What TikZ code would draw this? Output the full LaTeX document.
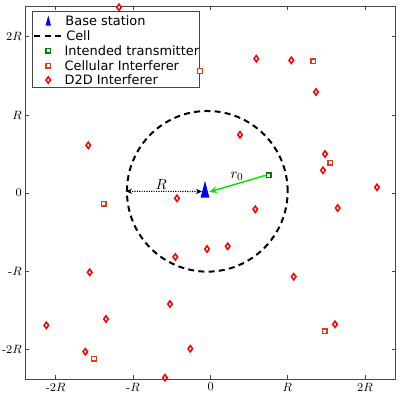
\documentclass[tikz,border=0pt]{standalone}
\usepackage{fontspec}
\newfontfamily\legfont{DejaVu Sans}
\usetikzlibrary{shapes.geometric,arrows.meta,calc}
\definecolor{cellorange}{RGB}{222,62,22}
\definecolor{txgreen}{RGB}{0,128,0}
\definecolor{arrgreen}{RGB}{10,225,10}
\definecolor{framegray}{RGB}{70,70,70}
\tikzset{
  d2d/.style={diamond, draw=red, fill=white, line width=1.15pt, inner sep=0pt, minimum width=3.9pt, minimum height=5.2pt},
  cellint/.style={rectangle, draw=cellorange, fill=white, line width=1.05pt, inner sep=0pt, minimum size=3.4pt},
  txsq/.style={rectangle, draw=txgreen, fill=white, line width=1.05pt, inner sep=0pt, minimum size=3.4pt},
  celldash/.style={draw=black, line width=1.5pt, dash pattern=on 4.5pt off 3.2pt},
  ticklab/.style={font=\fontsize{9}{10}\selectfont, inner sep=0pt},
  leglab/.style={font=\legfont\fontsize{9.7}{11}\selectfont, anchor=west, inner sep=0pt},
  tick/.style={draw=framegray, line width=0.5pt}
}
\begin{document}
\begin{tikzpicture}[x=0.75pt,y=-0.75pt]
\useasboundingbox (0,0) rectangle (403,397);
% frame
\draw[framegray, line width=0.6pt] (25,6) rectangle (395.7,379.3);
% ticks
\foreach \xx in {55.7,133,210.7,287.3,365}{
  \draw[tick] (\xx,379.3) -- ++(0,-4);
  \draw[tick] (\xx,6) -- ++(0,4);
}
\foreach \yy in {36.7,115,193,271,349.3}{
  \draw[tick] (25,\yy) -- ++(4,0);
  \draw[tick] (395.7,\yy) -- ++(-4,0);
}
% tick labels
\node[ticklab] (xl1) at (55.7,387) {-2$R$};
\node[ticklab] (xl2) at (133,387) {-$R$};
\node[ticklab] (xl3) at (210.7,387) {$0$};
\node[ticklab] (xl4) at (287.3,387) {$R$};
\node[ticklab] (xl5) at (365,387) {2$R$};
\node[ticklab, anchor=east] (yl1) at (22,36.7) {2$R$};
\node[ticklab, anchor=east] (yl2) at (22,115) {$R$};
\node[ticklab, anchor=east] (yl3) at (22,193) {$0$};
\node[ticklab, anchor=east] (yl4) at (22,271) {-$R$};
\node[ticklab, anchor=east] (yl5) at (22,349.3) {-2$R$};
% legend box (drawn first; markers lie on top of it)
\node[draw=framegray, fill=white, line width=0.7pt, minimum width=125pt, minimum height=57pt, inner sep=0pt, anchor=north west] (legend) at (32.3,11.3) {};
\fill[blue] (45.6,25.5) -- (51,25.5) -- (48.3,15.5) -- cycle;
\node[leglab] (lt1) at (65.2,20.7) {Base station};
\coordinate (lc1) at (34,35.7);
\coordinate (lc2) at (64,35.7);
\draw[black, line width=1.5pt, dash pattern=on 4.5pt off 3.5pt] (lc1) -- (lc2);
\node[leglab] (lt2) at (66,35.7) {Cell};
\node[txsq] (ltx) at (48.3,50.7) {};
\node[leglab] (lt3) at (64.3,50.7) {Intended transmitter};
\node[cellint] (lci) at (48.3,65.7) {};
\node[leglab] (lt4) at (64.3,65.7) {Cellular Interferer};
\node[d2d] (ld) at (48.3,80) {};
\node[leglab] (lt5) at (64.3,80) {D2D Interferer};
% cell
\coordinate (bs) at (205,191.5);
\node[circle, celldash, minimum size=120.5pt, inner sep=0pt] (cell) at (207.3,191.3) {};
% interferers
\node[d2d] (d1) at (119,7.3) {};
\node[d2d] (d2) at (256.3,58.7) {};
\node[d2d] (d3) at (291.3,60.3) {};
\node[d2d] (d4) at (316,92) {};
\node[d2d] (d5) at (240,134.7) {};
\node[d2d] (d6) at (88.3,145.3) {};
\node[d2d] (d7) at (325,154) {};
\node[d2d] (d8) at (323,170.3) {};
\node[d2d] (d9) at (377,187.3) {};
\node[d2d] (d10) at (177,198.3) {};
\node[d2d] (d11) at (255.3,209.3) {};
\node[d2d] (d12) at (337.7,208) {};
\node[d2d] (d13) at (207,249) {};
\node[d2d] (d14) at (227.7,246.3) {};
\node[d2d] (d15) at (175.3,257) {};
\node[d2d] (d16) at (89.7,272.3) {};
\node[d2d] (d17) at (293.7,276.7) {};
\node[d2d] (d18) at (170,304) {};
\node[d2d] (d19) at (106,319) {};
\node[d2d] (d20) at (46.3,325.3) {};
\node[d2d] (d21) at (335,324.3) {};
\node[d2d] (d22) at (85.3,351.7) {};
\node[d2d] (d23) at (190.3,348.7) {};
\node[d2d] (d24) at (165,377.7) {};
\node[cellint] (c1) at (200,71) {};
\node[cellint] (c2) at (313.3,61.3) {};
\node[cellint] (c3) at (330.3,162.7) {};
\node[cellint] (c4) at (103.7,203.7) {};
\node[cellint] (c5) at (324.7,331.3) {};
\node[cellint] (c6) at (94,358.7) {};
% intended transmitter
\node[txsq] (tx) at (268.7,175.3) {};
% arrows
\draw[black, line width=0.8pt, densely dotted, {Stealth[length=4.5pt,width=4pt]}-{Stealth[length=4.5pt,width=4pt]}] (cell.west) -- ($(bs)+(-3,0)$);
\draw[arrgreen, line width=1.1pt, -{Stealth[length=6pt,width=5pt]}] (tx.west) -- ($(bs)+(4,0.5)$);
\node[font=\fontsize{11}{12}\selectfont, inner sep=0pt] (Rlab) at (161.3,184.5) {$R$};
\node[font=\fontsize{11}{12}\selectfont, inner sep=0pt] (r0lab) at (237,176) {$r_0$};
% base station
\fill[blue] (200.6,197.7) -- (209.4,197.7) -- (205,180.7) -- cycle;
\end{tikzpicture}
\end{document}
